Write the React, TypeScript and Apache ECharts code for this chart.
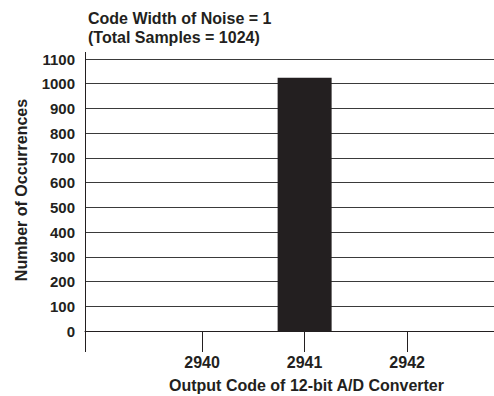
import React, { useEffect, useRef } from "react";
import * as echarts from "echarts";

const titleLines = ["Code Width of Noise = 1", "(Total Samples = 1024)"];
const xTickValues = [2940, 2941, 2942];
const codes = [2941];
const occurrences = [1024];
const yName = "Number of Occurrences";
const xName = "Output Code of 12-bit A/D Converter";

const INK = "#231f20";
const FONT = "Liberation Sans";

export default function App() {
  const ref = useRef<HTMLDivElement>(null);
  useEffect(() => {
    if (!ref.current) return;
    const chart = echarts.init(ref.current, null, { renderer: "svg" });
    chart.setOption({
      animation: false,
      backgroundColor: "#ffffff",
      title: {
        text: titleLines.join("\n"),
        left: 83,
        top: 4,
        textStyle: { fontFamily: FONT, fontWeight: "bold", fontSize: 16, color: INK, lineHeight: 19 },
      },
      grid: { left: 85, right: 0, top: 59, bottom: 65, containLabel: false, outerBoundsMode: "none" },
      xAxis: {
        type: "value",
        min: 2938.858,
        max: 2942.847,
        name: xName,
        nameLocation: "middle",
        nameGap: 46,
        nameTextStyle: {
          fontFamily: FONT,
          fontWeight: "bold",
          fontSize: 16,
          color: INK,
          padding: [0, 0, 0, 34],
        },
        axisLine: { show: true, lineStyle: { color: INK, width: 1 } },
        axisTick: { show: true, customValues: xTickValues, length: 21, lineStyle: { color: INK, width: 1 } },
        axisLabel: {
          customValues: xTickValues,
          margin: 23,
          fontFamily: FONT,
          fontWeight: "bold",
          fontSize: 16,
          color: INK,
          formatter: (v: number) => String(v),
        },
        splitLine: { show: false },
      },
      yAxis: {
        type: "value",
        min: 0,
        max: 1100,
        interval: 100,
        name: yName,
        nameLocation: "middle",
        nameGap: 56,
        nameRotate: 90,
        nameTextStyle: {
          fontFamily: FONT,
          fontWeight: "bold",
          fontSize: 16,
          color: INK,
          padding: [0, 0, 0, 10],
        },
        axisLine: { show: true, lineStyle: { color: INK, width: 1 } },
        axisTick: { show: false },
        axisLabel: {
          margin: 10,
          fontFamily: FONT,
          fontWeight: "bold",
          fontSize: 15,
          color: INK,
          formatter: (v: number) => String(v),
        },
        splitLine: { show: true, lineStyle: { color: "#3a3a3a", width: 1 } },
      },
      graphic: [
        { type: "line", shape: { x1: 85.5, y1: 52, x2: 85.5, y2: 59 }, style: { stroke: INK, lineWidth: 1 } },
        { type: "line", shape: { x1: 85.5, y1: 331, x2: 85.5, y2: 352 }, style: { stroke: INK, lineWidth: 1 } },
      ],
      series: [
        {
          type: "bar",
          data: codes.map((c, i) => [c, occurrences[i]]),
          barWidth: 54,
          itemStyle: { color: INK },
        },
      ],
    });
    return () => chart.dispose();
  }, []);
  return <div ref={ref} style={{ width: 494, height: 396, position: "absolute", left: 0, top: 0 }} />;
}
